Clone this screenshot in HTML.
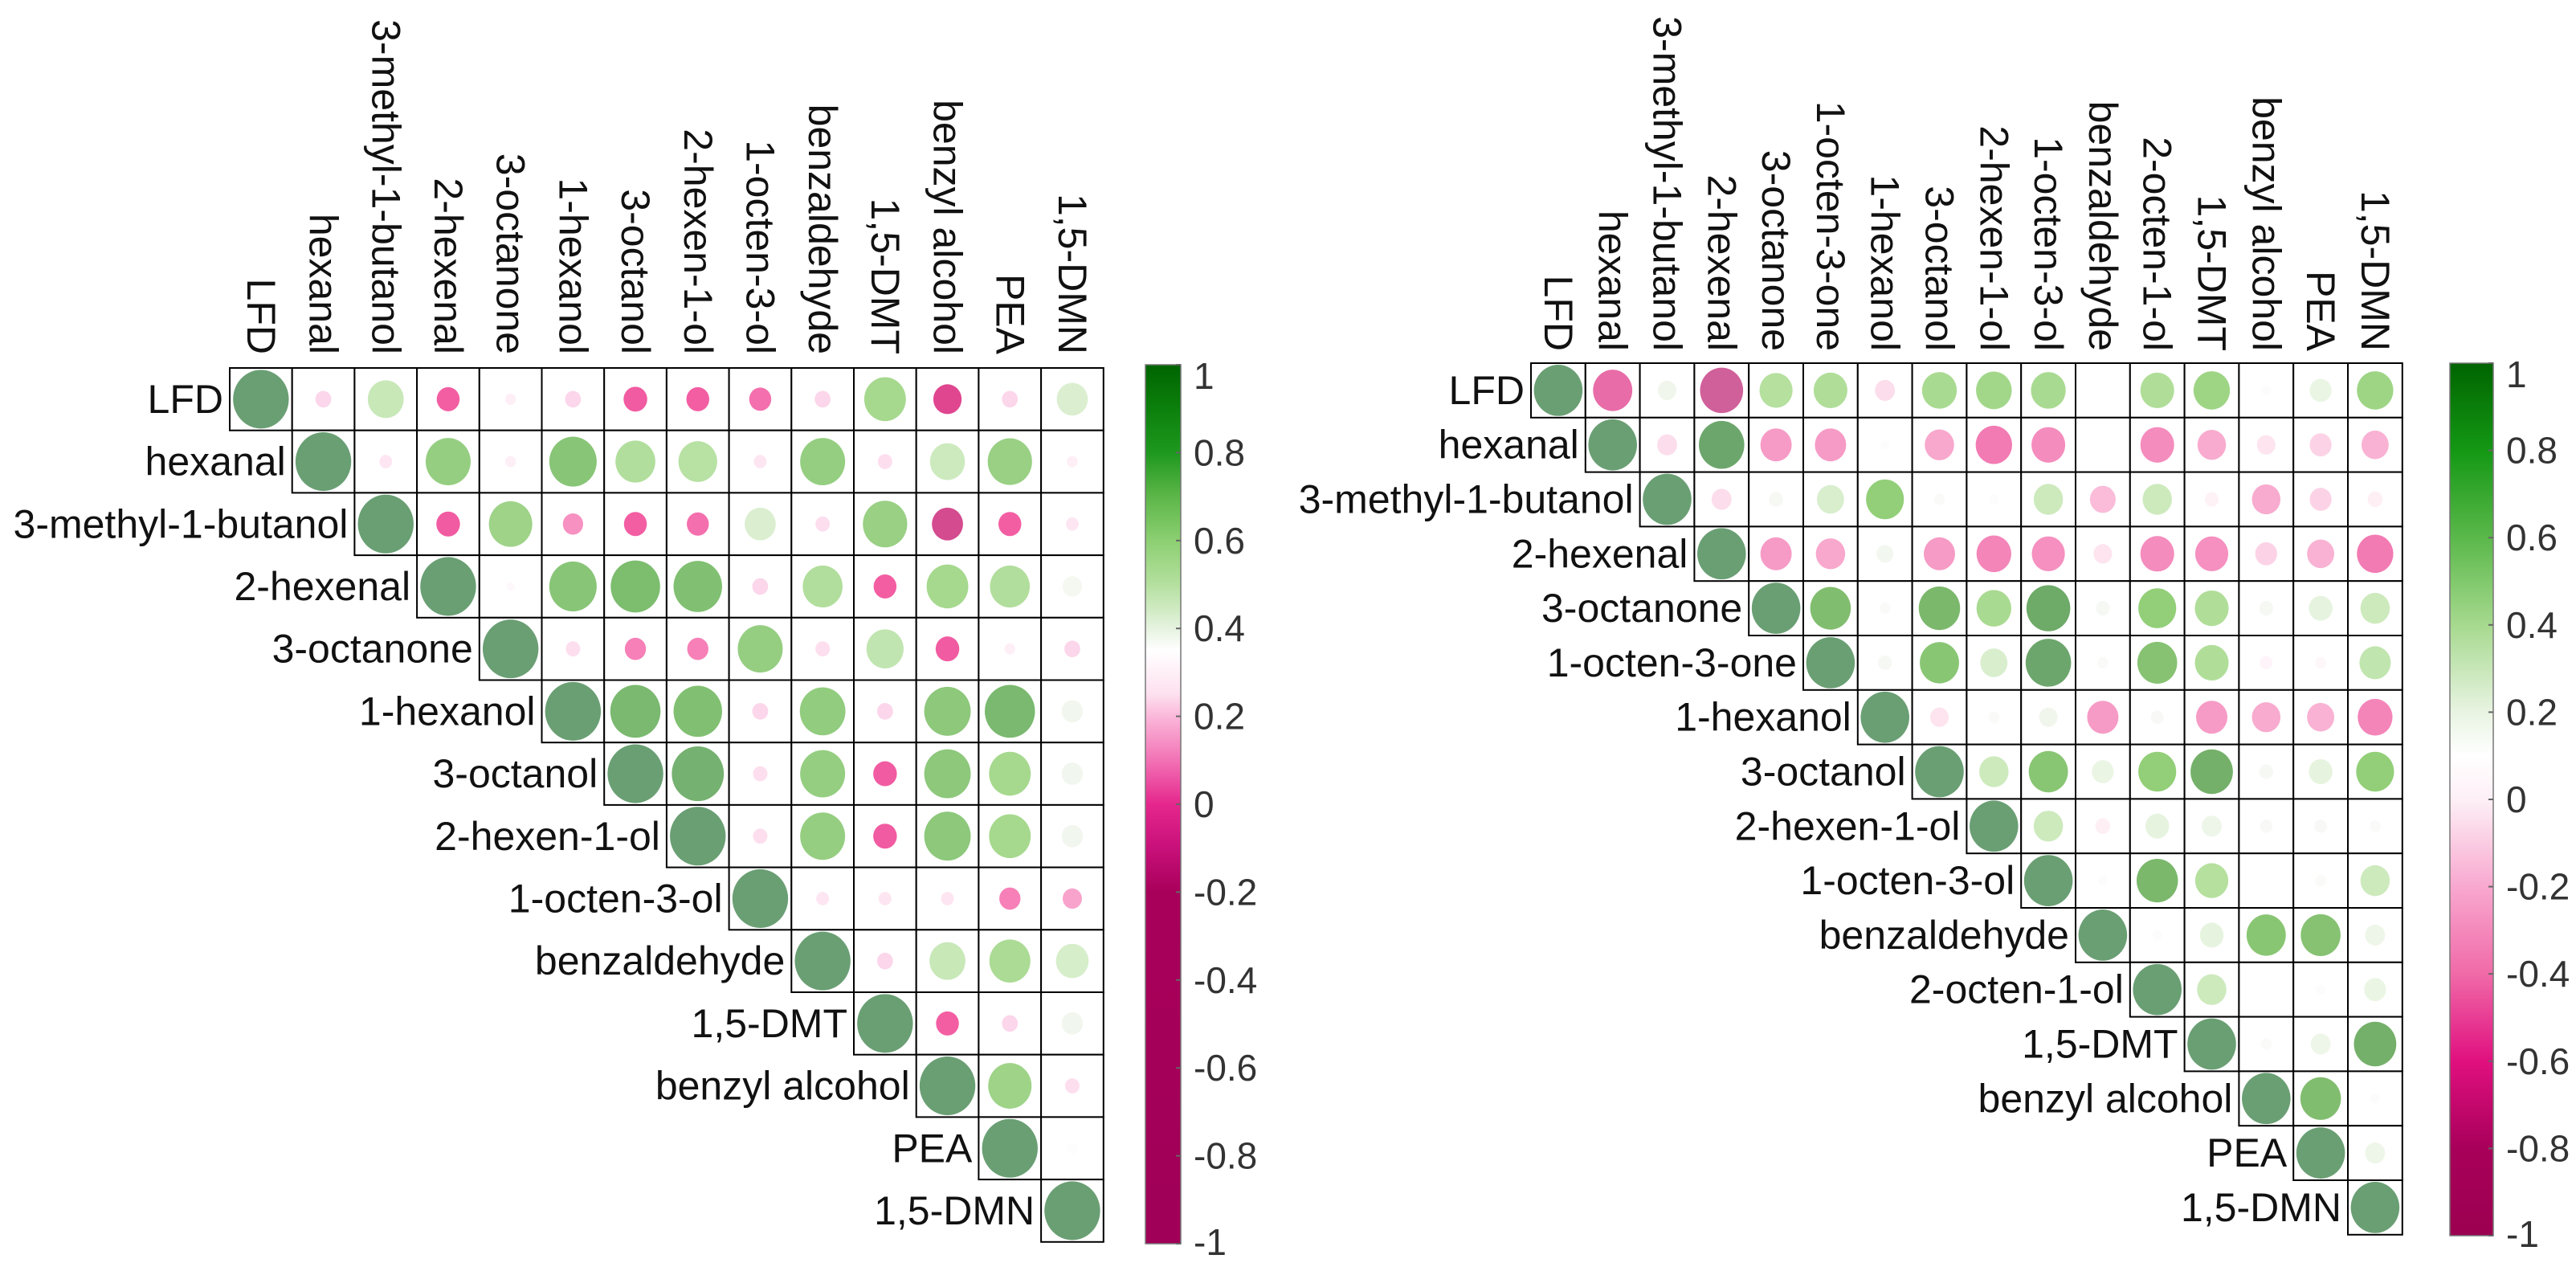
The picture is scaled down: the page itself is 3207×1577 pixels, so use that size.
<!DOCTYPE html>
<html><head><meta charset="utf-8"><style>
html,body{margin:0;padding:0;background:#fff;}
svg{display:block;font-family:"Liberation Sans",Arial,sans-serif;}
</style></head><body>
<svg id="fig" width="3207" height="1577" viewBox="0 0 3207 1577" xmlns="http://www.w3.org/2000/svg">
<defs>
<linearGradient id="cbL" x1="0" y1="0" x2="0" y2="1">
<stop offset="0" stop-color="#006400"/><stop offset="0.05" stop-color="#0c800c"/><stop offset="0.1" stop-color="#1e981e"/>
<stop offset="0.15" stop-color="#5cb648"/><stop offset="0.2" stop-color="#8ccf72"/><stop offset="0.25" stop-color="#b4e09e"/>
<stop offset="0.3" stop-color="#e6f3e0"/><stop offset="0.325" stop-color="#ffffff"/><stop offset="0.375" stop-color="#fde0ef"/>
<stop offset="0.4" stop-color="#fbb8da"/><stop offset="0.45" stop-color="#f272b5"/><stop offset="0.5" stop-color="#e5278d"/>
<stop offset="0.55" stop-color="#c8107a"/><stop offset="0.6" stop-color="#a8005a"/><stop offset="1" stop-color="#a00058"/>
</linearGradient>
<linearGradient id="cbR" x1="0" y1="0" x2="0" y2="1">
<stop offset="0" stop-color="#006400"/><stop offset="0.1" stop-color="#149814"/><stop offset="0.2" stop-color="#5ab84a"/>
<stop offset="0.3" stop-color="#a6d98e"/><stop offset="0.4" stop-color="#e8f4e2"/><stop offset="0.45" stop-color="#ffffff"/>
<stop offset="0.5" stop-color="#fdf0f6"/><stop offset="0.6" stop-color="#f8a8cf"/><stop offset="0.7" stop-color="#f06aa8"/>
<stop offset="0.8" stop-color="#e0107f"/><stop offset="0.9" stop-color="#a8005a"/><stop offset="1" stop-color="#9c0050"/>
</linearGradient>
</defs>
</svg>
<script>
// ---------- data ----------
const leftVars = ["LFD","hexanal","3-methyl-1-butanol","2-hexenal","3-octanone","1-hexanol","3-octanol","2-hexen-1-ol","1-octen-3-ol","benzaldehyde","1,5-DMT","benzyl alcohol","PEA","1,5-DMN"];
const leftUpper = [
 [-0.05,0.35,-0.12,-0.02,-0.05,-0.13,-0.12,-0.11,-0.05,0.5,-0.2,-0.05,0.25],
 [-0.03,0.6,-0.02,0.68,0.45,0.42,-0.03,0.6,-0.04,0.33,0.58,-0.02],
 [-0.13,0.55,-0.09,-0.12,-0.11,0.25,-0.04,0.58,-0.25,-0.12,-0.03],
 [-0.01,0.68,0.75,0.72,-0.05,0.45,-0.12,0.5,0.45,0.08],
 [-0.04,-0.1,-0.1,0.6,-0.04,0.38,-0.13,-0.02,-0.05],
 [0.78,0.72,-0.05,0.62,-0.05,0.65,0.78,0.1],
 [0.85,-0.04,0.6,-0.13,0.65,0.5,0.1],
 [-0.04,0.6,-0.13,0.65,0.5,0.1],
 [-0.03,-0.03,-0.03,-0.1,-0.08],
 [-0.05,0.35,0.48,0.28],
 [-0.12,-0.05,0.1],
 [0.55,-0.04],
 [0.02],
 []
];
const rightVars = ["LFD","hexanal","3-methyl-1-butanol","2-hexenal","3-octanone","1-octen-3-one","1-hexanol","3-octanol","2-hexen-1-ol","1-octen-3-ol","benzaldehyde","2-octen-1-ol","1,5-DMT","benzyl alcohol","PEA","1,5-DMN"];
const rightUpper = [
 [-0.6,0.1,-0.75,0.4,0.42,-0.12,0.45,0.48,0.45,0.0,0.42,0.5,0.02,0.15,0.5],
 [-0.12,0.85,-0.35,-0.35,0.02,-0.3,-0.5,-0.42,0.0,-0.42,-0.28,-0.1,-0.15,-0.25],
 [-0.12,0.05,0.25,0.55,0.03,0.02,0.3,-0.22,0.3,-0.05,-0.28,-0.15,-0.06],
 [-0.35,-0.3,0.08,-0.35,-0.45,-0.4,-0.1,-0.42,-0.4,-0.15,-0.25,-0.5],
 [0.65,0.03,0.68,0.45,0.78,0.05,0.55,0.42,0.05,0.18,0.3],
 [0.05,0.6,0.25,0.85,0.03,0.62,0.42,-0.04,-0.03,0.35],
 [-0.1,0.03,0.1,-0.35,0.04,-0.35,-0.28,-0.25,-0.45],
 [0.3,0.6,0.15,0.55,0.72,0.05,0.18,0.55],
 [0.3,-0.06,0.18,0.12,0.04,0.04,0.03],
 [0.02,0.68,0.4,0.0,0.03,0.3],
 [0.02,0.18,0.6,0.62,0.12],
 [0.3,0.0,0.02,0.15],
 [0.03,0.12,0.72],
 [0.65,0.02],
 [0.12],
 []
];
const tickLabels = ["1","0.8","0.6","0.4","0.2","0","-0.2","-0.4","-0.6","-0.8","-1"];
// ---------- color maps for circles ----------
const leftStops = [[-1,"#b04a86"],[-0.3,"#c8508e"],[-0.2,"#e0468f"],[-0.12,"#f35ea3"],[-0.05,"#fcd6ea"],[0,"#ffffff"],[0.1,"#f1f6ee"],[0.3,"#d3edc6"],[0.5,"#a6d98e"],[0.75,"#7cbd6e"],[1,"#6a9f74"]];
const rightStops = [[-1,"#b04a86"],[-0.75,"#d0609a"],[-0.55,"#f070ac"],[-0.4,"#f590c0"],[-0.25,"#f9b2d3"],[-0.1,"#fde4ef"],[0,"#ffffff"],[0.05,"#f6f8f4"],[0.2,"#e4f3dc"],[0.4,"#b5e09e"],[0.55,"#92cf78"],[0.75,"#6fab66"],[1,"#6a9f74"]];
function hex2rgb(h){return [parseInt(h.substr(1,2),16),parseInt(h.substr(3,2),16),parseInt(h.substr(5,2),16)];}
function colorAt(stops,v){
  if(v<=stops[0][0])return stops[0][1];
  for(let i=1;i<stops.length;i++){
    if(v<=stops[i][0]){
      const a=stops[i-1],b=stops[i],t=(v-a[0])/(b[0]-a[0]);
      const ca=hex2rgb(a[1]),cb=hex2rgb(b[1]);
      return "rgb("+ca.map((c,k)=>Math.round(c+(cb[k]-c)*t)).join(",")+")";
    }
  }
  return stops[stops.length-1][1];
}
const NS="http://www.w3.org/2000/svg";
const svg=document.getElementById("fig");
function mk(tag,attrs,parent){const e=document.createElementNS(NS,tag);for(const k in attrs)e.setAttribute(k,attrs[k]);(parent||svg).appendChild(e);return e;}

function drawMatrix(cfg){
  const g=mk("g",{});
  
  
  const n=cfg.vars.length, c=cfg.cell;
  const xs=i=>cfg.x0+i*c, ys=i=>cfg.y0+i*c;
  const R=c*0.47;
  for(let i=0;i<n;i++){
    const rl=mk("text",{x:xs(i)-8,y:ys(i)+c/2,"text-anchor":"end","dominant-baseline":"central","font-size":cfg.fs,fill:"#111"},g);
    rl.textContent=cfg.vars[i];
    
    
    const cl=mk("text",{x:0,y:0,transform:"translate("+(xs(i)+c/2)+","+cfg.colEnd+") rotate(90)","text-anchor":"end","dominant-baseline":"central","font-size":cfg.fs,fill:"#111"},g);
    cl.textContent=cfg.vars[i];
    
    
    for(let j=i;j<n;j++){
      const v = (j===i)?1:cfg.data[i][j-i-1];
      const cellR=mk("rect",{x:xs(j),y:ys(i),width:c,height:c,fill:"#fff",stroke:"#000","stroke-width":2},g);
      
      
      const r=R*Math.pow(Math.abs(v),0.42);
      if(r>0.5){
        const ci=mk("ellipse",{cx:xs(j)+c/2,cy:ys(i)+c/2,rx:r*0.95,ry:r,fill:colorAt(cfg.stops,v)},g);
        
        
      }
    }
  }
  const cb=mk("rect",{x:cfg.cbx,y:cfg.cby,width:cfg.cbw,height:cfg.cbh,fill:"url(#"+cfg.grad+")",stroke:"#777","stroke-width":1.5},g);
  
  
  tickLabels.forEach((t,k)=>{
    const y=cfg.cby+k*cfg.cbh/(tickLabels.length-1);
    const tk=mk("line",{x1:cfg.cbx+cfg.cbw-6,x2:cfg.cbx+cfg.cbw,y1:y,y2:y,stroke:"#666","stroke-width":2},g);
    
    
    const tl=mk("text",{x:cfg.cbx+cfg.cbw+16,y:y+(k===0?14:(k===tickLabels.length-1?-2:0)),"dominant-baseline":"central","font-size":46,fill:"#333"},g);
    tl.textContent=t;
    
    
  });
}
drawMatrix({name:"left-correlation-matrix",vars:leftVars,data:leftUpper,stops:leftStops,x0:286,y0:458,cell:77.7,fs:50,colEnd:441,cbx:1426,cby:454,cbw:44,cbh:1094,grad:"cbL"});
drawMatrix({name:"right-correlation-matrix",vars:rightVars,data:rightUpper,stops:rightStops,x0:1906,y0:452,cell:67.8,fs:50,colEnd:437,cbx:3050,cby:452,cbw:54,cbh:1086,grad:"cbR"});
</script>
</body></html>
